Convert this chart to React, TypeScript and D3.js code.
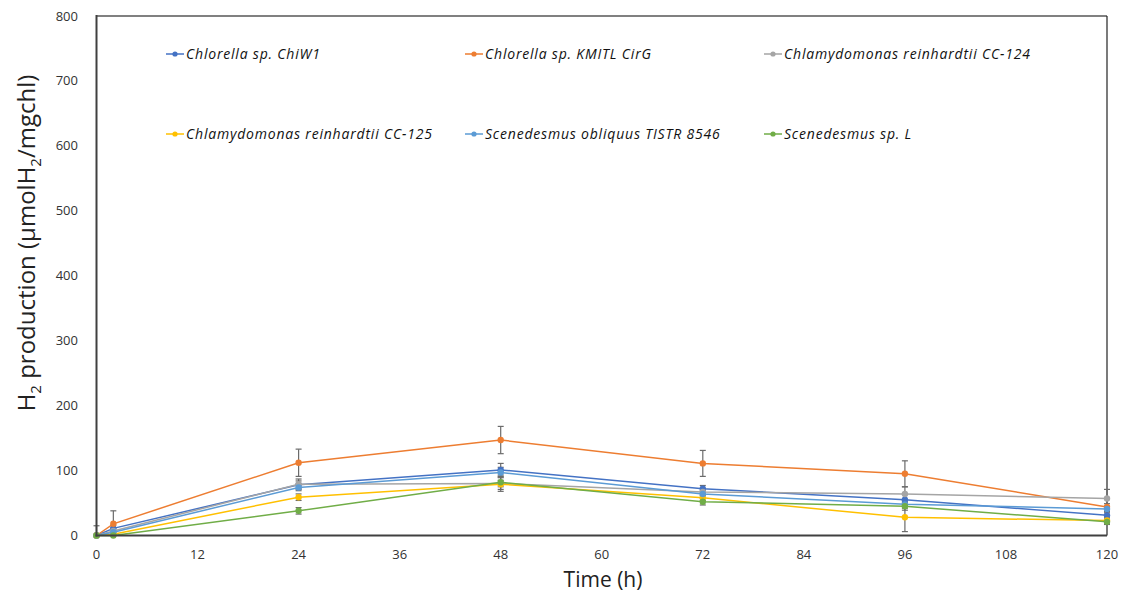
import React from "react";
import * as d3 from "d3";

const times = [0, 2, 24, 48, 72, 96, 120];
const seriesNames = [
  "Chlorella sp. ChiW1",
  "Chlorella sp. KMITL CirG",
  "Chlamydomonas reinhardtii CC-124",
  "Chlamydomonas reinhardtii CC-125",
  "Scenedesmus obliquus TISTR 8546",
  "Scenedesmus sp. L",
];
const seriesColors = ["#4472C4", "#ED7D31", "#A5A5A5", "#FFC000", "#5B9BD5", "#70AD47"];

const chiW1 = [0, 11, 78, 101, 72, 55, 31];
const cirG = [0, 18, 112, 147, 111, 95, 44];
const cc124 = [0, 7, 79, 80, 67, 64, 57];
const cc125 = [0, 2, 59, 79, 58, 28, 23];
const tistr = [0, 5, 74, 97, 64, 48, 41];
const scenL = [0, 0, 38, 82, 52, 45, 21];

const chiW1Err = [0, 5, 6, 10, 5, 8, 4];
const cirGErr = [0, 20, 21, 21, 20, 20, 5];
const cc124Err = [15, 5, 8, 5, 5, 11, 14];
const cc125Err = [0, 2, 5, 11, 4, 22, 4];
const tistrErr = [0, 3, 5, 8, 5, 6, 4];
const scenLErr = [0, 1, 5, 11, 5, 6, 4];

const xTicks = [0, 12, 24, 36, 48, 60, 72, 84, 96, 108, 120];
const yTicks = [0, 100, 200, 300, 400, 500, 600, 700, 800];

const allValues = [chiW1, cirG, cc124, cc125, tistr, scenL];
const allErrors = [chiW1Err, cirGErr, cc124Err, cc125Err, tistrErr, scenLErr];

const W = 1130;
const H = 594;
const left = 96.5;
const right = 1107;
const top = 16;
const bottom = 535.5;

export default function App() {
  const x = d3.scaleLinear().domain([0, 120]).range([left, right]);
  const y = d3.scaleLinear().domain([0, 800]).range([bottom, top]);
  const line = d3
    .line<number>()
    .x((_, i) => x(times[i]))
    .y((v) => y(v));

  const legendCols = [166, 465, 764];
  const legendRows = [54, 134];
  const font = "'Open Sans', 'DejaVu Sans', sans-serif";

  return (
    <svg
      width={W}
      height={H}
      style={{ position: "absolute", left: 0, top: 0, background: "#fff" }}
      fontFamily={font}
    >
      <rect x={0} y={0} width={W} height={H} fill="#fff" />
      {/* plot frame */}
      <line x1={left} x2={right} y1={top} y2={top} stroke="#808080" strokeWidth={2} />
      <line x1={right} x2={right} y1={top} y2={bottom} stroke="#222" strokeWidth={1.2} />

      {/* error bars */}
      {allValues.map((vals, si) =>
        vals.map((v, i) => {
          const e = allErrors[si][i];
          if (!e) return null;
          const cx = x(times[i]);
          return (
            <g key={`e${si}-${i}`} stroke="#6b6b6b" strokeWidth={1.2}>
              <line x1={cx} x2={cx} y1={y(v + e)} y2={y(Math.max(0, v - e))} />
              <line x1={cx - 3} x2={cx + 3} y1={y(v + e)} y2={y(v + e)} />
              <line x1={cx - 3} x2={cx + 3} y1={y(Math.max(0, v - e))} y2={y(Math.max(0, v - e))} />
            </g>
          );
        })
      )}

      {/* lines and markers */}
      {allValues.map((vals, si) => (
        <g key={`s${si}`}>
          <path d={line(vals) || ""} fill="none" stroke={seriesColors[si]} strokeWidth={1.5} />
          {vals.map((v, i) => (
            <circle key={i} cx={x(times[i])} cy={y(v)} r={3.2} fill={seriesColors[si]} />
          ))}
        </g>
      ))}

      {/* axes */}
      <line x1={left} x2={left} y1={top - 1} y2={bottom + 1} stroke="#404040" strokeWidth={2} />
      <line x1={left - 1} x2={right} y1={bottom} y2={bottom} stroke="#404040" strokeWidth={2} />

      {yTicks.map((t) => (
        <text key={t} x={78} y={y(t) + 4.5} textAnchor="end" fontSize={13} fill="#333">
          {t}
        </text>
      ))}
      {xTicks.map((t) => (
        <text key={t} x={x(t)} y={559} textAnchor="middle" fontSize={13} fill="#333">
          {t}
        </text>
      ))}

      {/* axis titles */}
      <text
        transform={`translate(35, 243) rotate(-90)`}
        textAnchor="middle"
        fontSize={24}
        fill="#222"
      >
        H<tspan fontSize={15} dy={6}>2</tspan>
        <tspan dy={-6}> production (µmolH</tspan>
        <tspan fontSize={15} dy={6}>2</tspan>
        <tspan dy={-6}>/mgchl)</tspan>
      </text>
      <text x={603} y={587} textAnchor="middle" fontSize={21} fill="#222">
        Time (h)
      </text>

      {/* legend */}
      {seriesNames.map((name, i) => {
        const lx = legendCols[i % 3];
        const ly = legendRows[Math.floor(i / 3)];
        return (
          <g key={name}>
            <line x1={lx} x2={lx + 18} y1={ly} y2={ly} stroke={seriesColors[i]} strokeWidth={1.5} />
            <circle cx={lx + 9} cy={ly} r={2.6} fill={seriesColors[i]} />
            <text
              x={lx + 20}
              y={ly + 4.8}
              fontSize={14}
              letterSpacing={0.8}
              fontStyle="italic"
              fill="#111"
            >
              {name}
            </text>
          </g>
        );
      })}
    </svg>
  );
}
